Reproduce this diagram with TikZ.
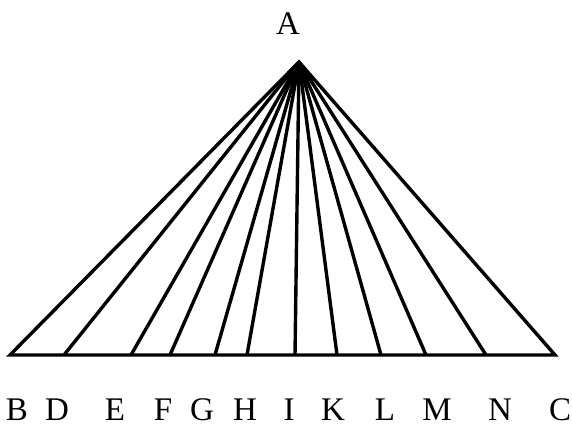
\documentclass[tikz,border=0pt]{standalone}
\usepackage{fontspec}
\setmainfont{Liberation Serif}
\usepackage{tikz}
\usetikzlibrary{positioning, calc}

\begin{document}
\begin{tikzpicture}[x=0.5pt, y=-0.5pt, line width=1.7pt, line join=miter,
  lbl/.style={anchor=base, inner sep=0pt, font=\fontsize{16.5}{20}\selectfont}]
  \useasboundingbox (0,0) rectangle (572,426);

  \coordinate (a) at (299, 62);
  \coordinate (b) at (10, 355);  \coordinate (d) at (64, 355);
  \coordinate (e) at (131, 355); \coordinate (f) at (170, 355);
  \coordinate (g) at (215, 355); \coordinate (h) at (247, 355);
  \coordinate (i) at (295, 355); \coordinate (k) at (337, 355);
  \coordinate (l) at (381, 355); \coordinate (m) at (426, 355);
  \coordinate (n) at (486, 355); \coordinate (c) at (555, 355);

  \node[lbl] (la) at (288, 35) {A};
  \node[lbl] (lb) at (17, 421) {B};  \node[lbl] (ld) at (57, 421) {D};
  \node[lbl] (le) at (115, 421) {E}; \node[lbl] (lf) at (163, 421) {F};
  \node[lbl] (lg) at (202, 421) {G}; \node[lbl] (lh) at (245, 421) {H};
  \node[lbl] (li) at (289, 421) {I}; \node[lbl] (lk) at (333, 421) {K};
  \node[lbl] (ll) at (385, 421) {L}; \node[lbl] (lm) at (437, 421) {M};
  \node[lbl] (ln) at (500, 421) {N}; \node[lbl] (lc) at (560, 421) {C};

  \draw (b) -- (a) -- (c) -- cycle;
  \draw (a) -- (d); \draw (a) -- (e); \draw (a) -- (f); \draw (a) -- (g);
  \draw (a) -- (h); \draw (a) -- (i); \draw (a) -- (k); \draw (a) -- (l);
  \draw (a) -- (m); \draw (a) -- (n);
\end{tikzpicture}
\end{document}
